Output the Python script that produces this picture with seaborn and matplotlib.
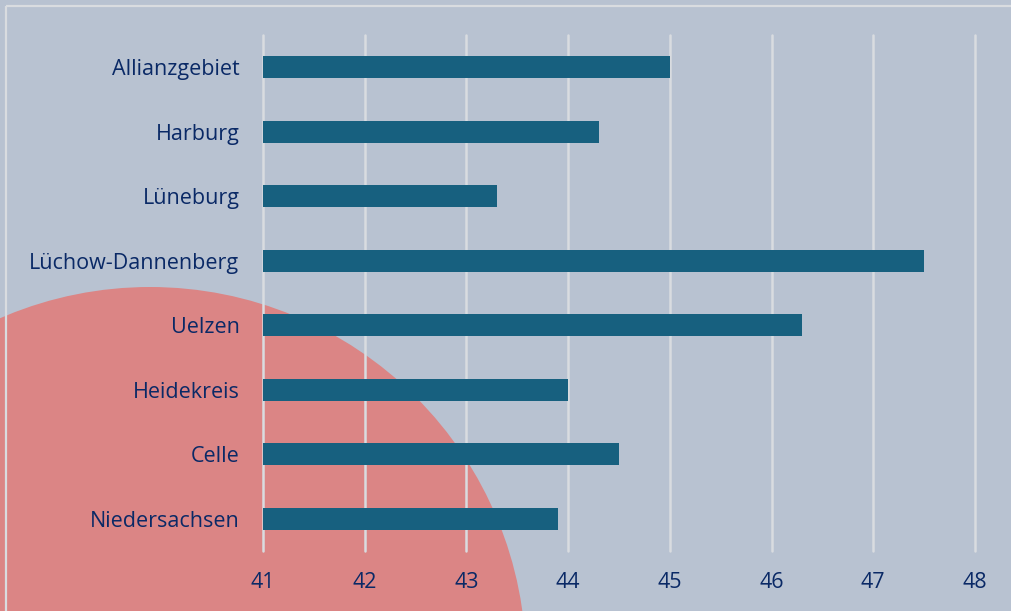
import matplotlib
matplotlib.use("Agg")
import matplotlib.pyplot as plt
import seaborn as sns
import pandas as pd
from matplotlib.patches import Circle

regions = ["Allianzgebiet", "Harburg", "Lüneburg", "Lüchow-Dannenberg",
           "Uelzen", "Heidekreis", "Celle", "Niedersachsen"]
values = [45.0, 44.3, 43.3, 47.5, 46.3, 44.0, 44.5, 43.9]
x_ticks = [41, 42, 43, 44, 45, 46, 47, 48]

BG = "#B8C2D1"
RED = "#DB8585"
BAR = "#17607F"
TXT = "#0A2966"
GRID = "#D9DCE0"

sns.set_theme(style="white")
plt.rcParams["font.family"] = ["Open Sans", "DejaVu Sans"]

W, H = 1011, 611
fig = plt.figure(figsize=(W / 100, H / 100), dpi=100)
fig.patch.set_facecolor(BG)

# background decoration axes (pixel coordinates)
bg = fig.add_axes([0, 0, 1, 1], zorder=0)
bg.set_xlim(0, W)
bg.set_ylim(H, 0)
bg.axis("off")
bg.add_patch(Circle((150, 663), 376, facecolor=RED, edgecolor="none"))
bg.plot([5.5, W + 5], [5.5, 5.5], color=GRID, lw=1.6, solid_capstyle="butt")
bg.plot([5.5, 5.5], [5.5, H + 5], color=GRID, lw=1.6, solid_capstyle="butt")

ax = fig.add_axes([263 / W, 1 - 551 / H, (975 - 263) / W, (551 - 35) / H], zorder=1)
ax.patch.set_alpha(0)

df = pd.DataFrame({"region": regions, "value": values})
sns.barplot(data=df, x="value", y="region", orient="h", color=BAR,
            width=0.34, saturation=1, linewidth=0, edgecolor=BAR, ax=ax, zorder=3)

ax.set_xlim(41, 48)
ax.set_ylim(len(regions) - 0.5, -0.5)
ax.set_xticks(x_ticks)
ax.set_xticklabels([str(t) for t in x_ticks])
ax.set_xlabel("")
ax.set_ylabel("")
ax.grid(axis="x", color=GRID, lw=1.8, zorder=0)
for gl in ax.get_xgridlines():
    gl.set_clip_on(False)
ax.grid(axis="y", visible=False)
for s in ax.spines.values():
    s.set_visible(False)
ax.tick_params(axis="both", length=0, colors=TXT, labelsize=15.5)
ax.tick_params(axis="y", pad=17)
ax.tick_params(axis="x", pad=15)

fig.savefig("out.png", dpi=100, facecolor=BG)
